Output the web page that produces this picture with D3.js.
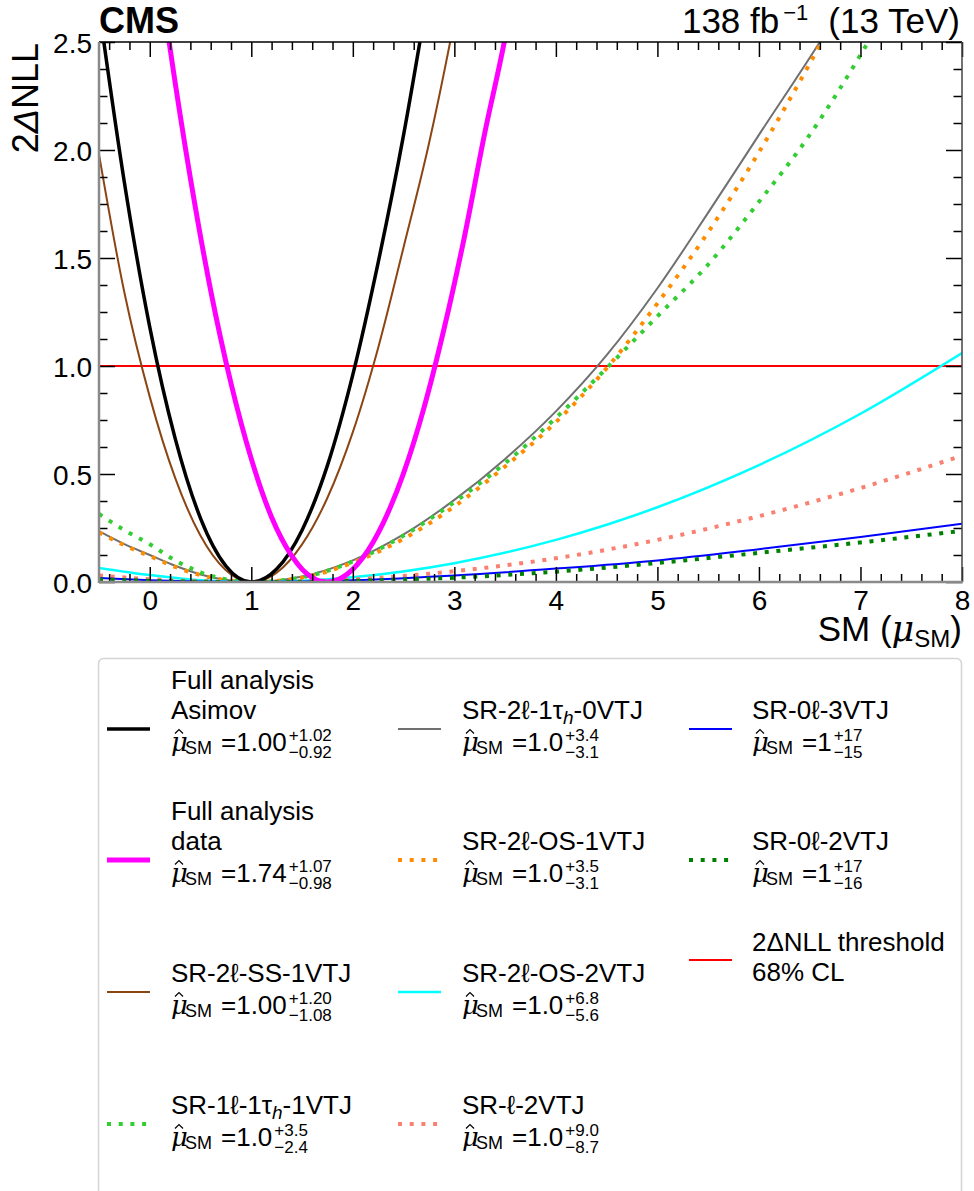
<!doctype html>
<html>
<head>
<meta charset="utf-8">
<style>
    body { margin: 0; background: white; }
    svg { display: block; }
    text { font-family: "Liberation Sans", Arial, Helvetica, sans-serif; fill: black; }
    .curve { fill: none; }
</style>
<script src="https://d3js.org/d3.v7.min.js"></script>
</head>
<body>
<script>
    // 2*DeltaNLL scans, [mu, 2dNLL]
    const asimov = [[-0.5, 2.66], [-0.25, 1.85], [0, 1.18], [0.25, 0.665], [0.5, 0.295], [0.75, 0.074], [1, 0],
        [1.25, 0.06], [1.5, 0.24], [1.75, 0.54], [2, 0.96], [2.25, 1.48], [2.5, 2.07], [2.75, 2.75]]
    const fullData = [[0.1, 2.8], [0.2, 2.47], [0.4, 1.87], [0.6, 1.35], [0.8, 0.92], [1.0, 0.57], [1.2, 0.30],
        [1.4, 0.12], [1.6, 0.02], [1.74, 0], [1.9, 0.022], [2.1, 0.113], [2.3, 0.274], [2.5, 0.504], [2.7, 0.805],
        [2.9, 1.175], [3.1, 1.6], [3.3, 2.08], [3.5, 2.52], [3.6, 2.78]]
    const ss1vtj = [[-0.5, 1.98], [-0.25, 1.34], [0, 0.857], [0.25, 0.482], [0.5, 0.214], [0.75, 0.054], [1, 0],
        [1.25, 0.043], [1.5, 0.174], [1.75, 0.39], [2, 0.694], [2.25, 1.085], [2.5, 1.55], [2.75, 2.03], [3, 2.6], [3.1, 2.85]]
    const l1tau1vtj = [[-0.5, 0.315], [-0.25, 0.24], [0, 0.175], [0.25, 0.10], [0.5, 0.045], [0.75, 0.012], [1, 0],
        [1.5, 0.022], [2, 0.095], [2.5, 0.215], [3, 0.37], [3.5, 0.55], [4, 0.76], [4.5, 0.99], [5, 1.23],
        [5.5, 1.47], [6, 1.76], [6.5, 2.07], [7, 2.44], [7.2, 2.6]]
    const l2tau0vtj = [[-0.5, 0.235], [-0.25, 0.175], [0, 0.125], [0.25, 0.075], [0.5, 0.035], [0.75, 0.01], [1, 0],
        [1.5, 0.025], [2, 0.10], [2.5, 0.22], [3, 0.38], [3.5, 0.57], [4, 0.79], [4.5, 1.05], [5, 1.36],
        [5.5, 1.71], [6, 2.07], [6.6, 2.5], [6.8, 2.65]]
    const os1vtj = [[-0.5, 0.23], [-0.25, 0.17], [0, 0.12], [0.25, 0.07], [0.5, 0.032], [0.75, 0.008], [1, 0],
        [1.5, 0.02], [2, 0.09], [2.5, 0.2], [3, 0.35], [3.5, 0.535], [4, 0.74], [4.5, 0.99], [5, 1.29],
        [5.5, 1.62], [6, 1.99], [6.5, 2.4], [6.8, 2.66]]
    const os2vtj = [[-0.5, 0.065], [0, 0.032], [0.5, 0.008], [1, 0], [2, 0.022], [3, 0.087], [4, 0.195],
        [5, 0.346], [6, 0.541], [7, 0.779], [8, 1.06]]
    const l2vtj = [[-0.5, 0.03], [0, 0.013], [0.5, 0.003], [1, 0], [2, 0.012], [3, 0.05], [4, 0.11],
        [5, 0.195], [6, 0.305], [7, 0.435], [8, 0.585]]
    const l0_3vtj = [[-0.5, 0.018], [0, 0.008], [0.5, 0.002], [1, 0], [2, 0.008], [3, 0.03], [4, 0.062],
        [5, 0.10], [6, 0.152], [7, 0.208], [8, 0.27]]
    const l0_2vtj = [[-0.5, 0.012], [0, 0.005], [0.5, 0.001], [1, 0], [2, 0.005], [3, 0.02], [4, 0.048],
        [5, 0.088], [6, 0.135], [7, 0.183], [8, 0.237]]
    const threshold = 1.0

    // legend text (column-major order, as in the figure)
    const legendTitles = [
        ['Full analysis', 'Asimov'], ['Full analysis', 'data'], ['SR-2ℓ-SS-1VTJ'], ['SR-1ℓ-1τ{h}-1VTJ'],
        ['SR-2ℓ-1τ{h}-0VTJ'], ['SR-2ℓ-OS-1VTJ'], ['SR-2ℓ-OS-2VTJ'], ['SR-ℓ-2VTJ'],
        ['SR-0ℓ-3VTJ'], ['SR-0ℓ-2VTJ'], ['2ΔNLL threshold', '68% CL']
    ]
    const muHat = ['1.00', '1.74', '1.00', '1.0', '1.0', '1.0', '1.0', '1.0', '1', '1', null]
    const errUp = ['+1.02', '+1.07', '+1.20', '+3.5', '+3.4', '+3.5', '+6.8', '+9.0', '+17', '+17', null]
    const errDown = ['−0.92', '−0.98', '−1.08', '−2.4', '−3.1', '−3.1', '−5.6', '−8.7', '−15', '−16', null]

    const xMajor = [0, 1, 2, 3, 4, 5, 6, 7, 8]
    const yMajor = [0, 0.5, 1.0, 1.5, 2.0, 2.5]
    const yLabels = ['0.0', '0.5', '1.0', '1.5', '2.0', '2.5']

    const series = [asimov, fullData, ss1vtj, l1tau1vtj, l2tau0vtj, os1vtj, os2vtj, l2vtj, l0_3vtj, l0_2vtj]

    const dotted = '4 7.7'
    const styles = [
        {color: 'black', w: 3.5},
        {color: '#ff00ff', w: 5},
        {color: '#8b4513', w: 2},
        {color: '#32cd32', w: 4, dash: dotted},
        {color: '#707070', w: 2},
        {color: '#ff8c00', w: 4, dash: dotted},
        {color: '#00ffff', w: 2.5},
        {color: '#fa8072', w: 4, dash: dotted},
        {color: '#0000ff', w: 2},
        {color: '#008000', w: 4, dash: dotted},
        {color: '#ff0000', w: 2}
    ]

    const W = 974, H = 1191
    const x = d3.scaleLinear().domain([-0.5, 8]).range([99, 962])
    const y = d3.scaleLinear().domain([0, 2.5]).range([582, 42])

    const svg = d3.select('body').append('svg').attr('width', W).attr('height', H)

    svg.append('defs').append('clipPath').attr('id', 'plotclip')
        .append('rect').attr('x', x(-0.5)).attr('y', y(2.5)).attr('width', x(8) - x(-0.5)).attr('height', y(0) - y(2.5))

    const line = d3.line().x(d => x(d[0])).y(d => y(d[1])).curve(d3.curveMonotoneX)

    const plot = svg.append('g').attr('clip-path', 'url(#plotclip)')

    // threshold line
    plot.append('line')
        .attr('x1', x(-0.5)).attr('x2', x(8)).attr('y1', y(threshold)).attr('y2', y(threshold))
        .attr('stroke', styles[10].color).attr('stroke-width', styles[10].w)

    // drawing order: SR curves first, full analysis on top
    const order = [2, 4, 5, 3, 6, 7, 8, 9, 0, 1]
    order.forEach(i => {
        const s = styles[i]
        plot.append('path').datum(series[i])
            .attr('class', 'curve')
            .attr('d', line)
            .attr('stroke', s.color)
            .attr('stroke-width', s.w)
            .attr('stroke-dasharray', s.dash || null)
    })

    // axes (ticks inward, mirrored on top/right)
    const xMinor = d3.range(-4, 80, 2).map(v => v / 10).filter(v => !xMajor.includes(v))
    const yMinor = d3.range(1, 20).map(v => v * 0.125).filter(v => !yMajor.includes(v))

    function styleAxis(g) {
        g.select('.domain').remove()
        g.selectAll('.tick line').attr('stroke', 'black').attr('stroke-width', 1.5)
    }

    svg.append('g').attr('transform', `translate(0,${y(0)})`)
        .call(d3.axisBottom(x).tickValues(xMajor).tickSizeInner(-15).tickFormat(d3.format('d')))
        .call(styleAxis)
        .call(g => g.selectAll('.tick text').attr('y', 28).attr('dy', 0)
            .attr('font-size', 28).attr('font-family', null).attr('fill', 'black'))
    svg.append('g').attr('transform', `translate(0,${y(0)})`)
        .call(d3.axisBottom(x).tickValues(xMinor).tickSizeInner(-8).tickFormat(''))
        .call(styleAxis)
    svg.append('g').attr('transform', `translate(0,${y(2.5)})`)
        .call(d3.axisTop(x).tickValues(xMajor).tickSizeInner(-15).tickFormat(''))
        .call(styleAxis)
    svg.append('g').attr('transform', `translate(0,${y(2.5)})`)
        .call(d3.axisTop(x).tickValues(xMinor).tickSizeInner(-8).tickFormat(''))
        .call(styleAxis)

    svg.append('g').attr('transform', `translate(${x(-0.5)},0)`)
        .call(d3.axisLeft(y).tickValues(yMajor).tickSizeInner(-16).tickFormat((d, i) => yLabels[i]))
        .call(styleAxis)
        .call(g => g.selectAll('.tick text').attr('x', -7).attr('dy', 0).attr('y', 10)
            .attr('font-size', 28).attr('font-family', null).attr('fill', 'black'))
    svg.append('g').attr('transform', `translate(${x(-0.5)},0)`)
        .call(d3.axisLeft(y).tickValues(yMinor).tickSizeInner(-8.5).tickFormat(''))
        .call(styleAxis)
    svg.append('g').attr('transform', `translate(${x(8)},0)`)
        .call(d3.axisRight(y).tickValues(yMajor).tickSizeInner(-16).tickFormat(''))
        .call(styleAxis)
    svg.append('g').attr('transform', `translate(${x(8)},0)`)
        .call(d3.axisRight(y).tickValues(yMinor).tickSizeInner(-8.5).tickFormat(''))
        .call(styleAxis)

    // frame
    svg.append('line').attr('x1', x(-0.5)).attr('x2', x(8)).attr('y1', y(2.5)).attr('y2', y(2.5))
        .attr('stroke', 'black').attr('stroke-width', 1.5)
    svg.append('line').attr('x1', x(8)).attr('x2', x(8)).attr('y1', y(2.5)).attr('y2', y(0))
        .attr('stroke', '#444').attr('stroke-width', 1.5)
    svg.append('line').attr('x1', x(-0.5)).attr('x2', x(-0.5)).attr('y1', y(2.5)).attr('y2', y(0) + 1)
        .attr('stroke', '#8a8a8a').attr('stroke-width', 2.5)
    svg.append('line').attr('x1', x(-0.5)).attr('x2', x(8) + 1).attr('y1', y(0)).attr('y2', y(0))
        .attr('stroke', '#8a8a8a').attr('stroke-width', 2.5)

    // labels
    svg.append('text').attr('x', 99).attr('y', 33).attr('font-size', 36).attr('font-weight', 'bold').text('CMS')

    const lumi = svg.append('text').attr('x', 960).attr('y', 33).attr('font-size', 35).attr('text-anchor', 'end')
    lumi.append('tspan').text('138 fb')
    lumi.append('tspan').attr('font-size', 22).attr('dx', 4).attr('dy', -13).text('−1')
    lumi.append('tspan').attr('dy', 13).attr('dx', 20).text('(13 TeV)')

    const xt = svg.append('text').attr('x', 962).attr('y', 641).attr('font-size', 35).attr('text-anchor', 'end')
    xt.append('tspan').text('SM (')
    xt.append('tspan').attr('font-style', 'italic').attr('font-family', 'DejaVu Serif').text('μ')
    xt.append('tspan').attr('font-size', 24).attr('dy', 6).text('SM')
    xt.append('tspan').attr('dy', -6).text(')')

    const yt = svg.append('text').attr('transform', 'translate(38,43) rotate(-90)')
        .attr('font-size', 36).attr('text-anchor', 'end')
    yt.append('tspan').text('2')
    yt.append('tspan').attr('font-style', 'italic').text('Δ')
    yt.append('tspan').text('NLL')

    // legend
    const leg = svg.append('g')
    leg.append('rect').attr('x', 98.5).attr('y', 658.5).attr('width', 863).attr('height', 620).attr('rx', 5)
        .attr('fill', 'white').attr('stroke', '#d4d4d4').attr('stroke-width', 1.5)

    const colHandleX = [107, 398, 689]
    const colTextX = [171, 462, 752]
    const rowY = [[729, 860, 992, 1124], [729, 860, 992, 1124], [729, 860, 960]]
    const colOf = i => i < 4 ? 0 : (i < 8 ? 1 : 2)
    const rowOf = i => i < 4 ? i : (i < 8 ? i - 4 : i - 8)

    // one title line as tspans; {x} marks an italic subscript
    function titleLine(t, str, ty) {
        const parts = str.split(/\{|\}/)
        parts.forEach((p, k) => {
            if (!p.length) return
            const ts = t.append('tspan').text(p)
            if (k === 0) ts.attr('x', 0)
            if (k % 2 === 1) ts.attr('y', ty + 5).attr('font-style', 'italic').attr('font-size', 19)
            else ts.attr('y', ty)
        })
    }

    legendTitles.forEach((lines, i) => {
        const c = colOf(i), r = rowOf(i)
        const hy = rowY[c][r]
        const s = styles[i]
        leg.append('line')
            .attr('x1', colHandleX[c]).attr('x2', colHandleX[c] + 43)
            .attr('y1', hy).attr('y2', hy)
            .attr('stroke', s.color).attr('stroke-width', s.w)
            .attr('stroke-dasharray', s.dash || null)

        const g = leg.append('g').attr('transform', `translate(${colTextX[c]},0)`)
        const t = g.append('text').attr('font-size', 26)
        if (muHat[i] === null) {
            titleLine(t, lines[0], hy - 9)
            titleLine(t, lines[1], hy + 21)
            return
        }
        lines.forEach((ln, k) => titleLine(t, ln, hy - 10.5 - 29.5 * (lines.length - 1 - k)))

        const by = hy + 21.5
        t.append('tspan').attr('x', 0).attr('y', by)
            .attr('font-style', 'italic').attr('font-family', 'DejaVu Serif').text('μ')
        t.append('tspan').attr('x', 14).attr('y', by + 3).attr('font-size', 18).text('SM')
        const main = t.append('tspan').attr('x', 50).attr('y', by).text('=' + muHat[i])
        const ex = 50 + main.node().getComputedTextLength() + 2
        t.append('tspan').attr('x', ex).attr('y', by - 10).attr('font-size', 17).text(errUp[i])
        t.append('tspan').attr('x', ex).attr('y', by + 7).attr('font-size', 17).text(errDown[i])

        // hat over mu
        g.append('path').attr('d', `M${4},${by - 17} L${8},${by - 21} L${12},${by - 17}`)
            .attr('fill', 'none').attr('stroke', 'black').attr('stroke-width', 1.2)
    })
</script>
</body>
</html>
